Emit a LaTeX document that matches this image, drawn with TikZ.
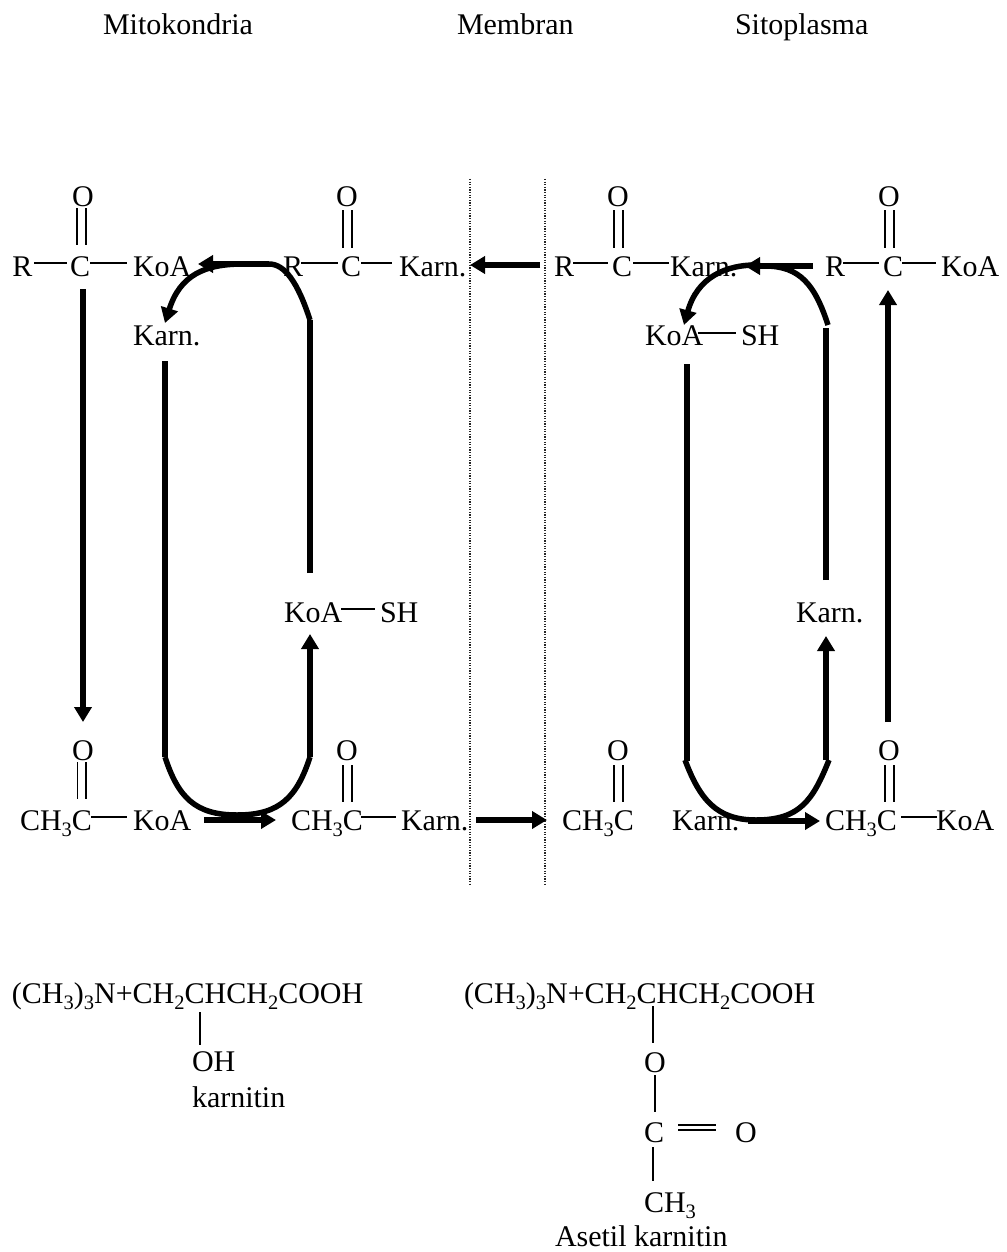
\documentclass[tikz,border=0pt]{standalone}
\usepackage{fontspec}
\setmainfont{Liberation Serif}
\usetikzlibrary{arrows.meta}
\newcommand{\subn}[1]{\raisebox{-0.2em}{\fontsize{20.5}{21}\selectfont #1}}
\newcommand{\bnd}[6]{\draw[bond] ([shift={(#2,#3)}]#1.base west) -- ([shift={(#5,#6)}]#4.base west);}
\newcommand{\thk}[6]{\draw[thick arrow] ([shift={(#2,#3)}]#1.base west) -- ([shift={(#5,#6)}]#4.base west);}
\tikzset{
  txt/.style={anchor=base west,inner sep=0pt,outer sep=0pt,font=\fontsize{30}{31}\selectfont},
  bond/.style={line width=1.3pt,black},
  heavy/.style={line width=5.5pt,black},
  thick arrow/.style={heavy,-{Triangle[length=15pt,width=17pt]}},
  membrane/.style={line width=1.1pt,dash pattern=on 1.2pt off 1.4pt,black!85}
}
\begin{document}
\begin{tikzpicture}[x=1pt,y=-1pt]
\fill[white] (0,0) rectangle (1006,1252);
\useasboundingbox (0,0) rectangle (1006,1252);
% titles
\node[txt] (t1) at (103,35) {Mitokondria};
\node[txt] (t2) at (457,35) {Membran};
\node[txt] (t3) at (735,35) {Sitoplasma};
% top row
\node[txt] (ao) at (72,207) {O};
\node[txt] (ar) at (12.5,276) {R};
\node[txt] (ac) at (70,276) {C};
\node[txt] (ak) at (133,276) {KoA};
\node[txt] (bo) at (336,207) {O};
\node[txt] (br) at (283,276) {R};
\node[txt] (bc) at (341,276) {C};
\node[txt] (bk) at (399,276) {Karn.};
\node[txt] (co) at (607,207) {O};
\node[txt] (cr) at (554,276) {R};
\node[txt] (cc) at (612,276) {C};
\node[txt] (ck) at (670,276) {Karn.};
\node[txt] (do) at (878,207) {O};
\node[txt] (dr) at (825,276) {R};
\node[txt] (dc) at (883,276) {C};
\node[txt] (dk) at (941,276) {KoA};
% second row
\node[txt] (m1) at (133,345) {Karn.};
\node[txt] (m2) at (645,345) {KoA};
\node[txt] (m3) at (741,345) {SH};
% middle row
\node[txt] (n1) at (284,622) {KoA};
\node[txt] (n2) at (380,622) {SH};
\node[txt] (n3) at (796,622) {Karn.};
% bottom row
\node[txt] (eo) at (72,760) {O};
\node[txt] (ec) at (20,830) {CH\subn{3}C};
\node[txt] (ek) at (133,830) {KoA};
\node[txt] (fo) at (336,760) {O};
\node[txt] (fc) at (291,830) {CH\subn{3}C};
\node[txt] (fk) at (401,830) {Karn.};
\node[txt] (go) at (607,760) {O};
\node[txt] (gc) at (562,830) {CH\subn{3}C};
\node[txt] (gk) at (672,830) {Karn.};
\node[txt] (ho) at (878,760) {O};
\node[txt] (hc) at (825,830) {CH\subn{3}C};
\node[txt] (hk) at (936,830) {KoA};
% structural formulas
\node[txt] (p1) at (12,1003) {(CH\subn{3})\subn{3}N+CH\subn{2}CHCH\subn{2}COOH};
\node[txt] (p2) at (192,1071) {OH};
\node[txt] (p3) at (192,1107) {karnitin};
\node[txt] (q1) at (464,1003) {(CH\subn{3})\subn{3}N+CH\subn{2}CHCH\subn{2}COOH};
\node[txt] (q2) at (644,1072) {O};
\node[txt] (q3) at (644,1142) {C};
\node[txt] (q4) at (735,1142) {O};
\node[txt] (q5) at (644,1212) {CH\subn{3}};
\node[txt] (q6) at (555,1246) {Asetil karnitin};
% membrane
\coordinate (mem1a) at (470,179); \coordinate (mem1b) at (470,886);
\coordinate (mem2a) at (545,179); \coordinate (mem2b) at (545,886);
\draw[membrane] (mem1a) -- (mem1b);
\draw[membrane] (mem2a) -- (mem2b);
% double bonds, top
\bnd{ao}{5}{1}{ac}{7}{-31} \bnd{ao}{14}{1}{ac}{16}{-31}
\bnd{bo}{7}{3}{bc}{2}{-28} \bnd{bo}{16}{3}{bc}{11}{-28}
\bnd{co}{7}{3}{cc}{2}{-28} \bnd{co}{16}{3}{cc}{11}{-28}
\bnd{do}{7}{3}{dc}{2}{-28} \bnd{do}{16}{3}{dc}{11}{-28}
% single bonds, top
\bnd{ar}{21.5}{-13}{ac}{-3}{-13} \bnd{ac}{20}{-13}{ak}{-6}{-13}
\bnd{br}{18}{-13}{bc}{-3}{-13} \bnd{bc}{20}{-13}{bk}{-7}{-13}
\bnd{cr}{19}{-13}{cc}{-4}{-13} \bnd{cc}{21}{-13}{ck}{-1}{-13}
\bnd{dr}{18}{-13}{dc}{-4}{-13} \bnd{dc}{19}{-13}{dk}{-5}{-13}
\bnd{m2}{53}{-12}{m3}{-5}{-12}
\bnd{n1}{57}{-13}{n2}{-5}{-13}
% double bonds, bottom
\bnd{eo}{5.5}{2}{ec}{57.5}{-31} \bnd{eo}{14}{2}{ec}{66}{-31}
\bnd{fo}{7}{5}{fc}{52}{-28} \bnd{fo}{16}{5}{fc}{61}{-28}
\bnd{go}{7}{5}{gc}{52}{-28} \bnd{go}{16}{5}{gc}{61}{-28}
\bnd{ho}{7}{5}{hc}{60}{-28} \bnd{ho}{16}{5}{hc}{69}{-28}
% single bonds, bottom
\bnd{ec}{71}{-13}{ek}{-6}{-13}
\bnd{fc}{70}{-13}{fk}{-5}{-13}
\bnd{hc}{76}{-13}{hk}{1}{-13}
% formula bonds
\bnd{p1}{188}{9}{p2}{8}{-26}
\bnd{q1}{189}{3}{q2}{9}{-29}
\bnd{q2}{11}{3}{q3}{11}{-30}
\bnd{q3}{34}{-17}{q4}{-19}{-17}
\bnd{q3}{34}{-12}{q4}{-19}{-12}
\bnd{q3}{9}{5}{q5}{9}{-31}
% straight heavy arrows
\thk{ac}{13}{13}{eo}{11}{-38}
\thk{fk}{75}{-10}{gc}{-15}{-10}
\thk{cr}{-14}{-11}{bk}{71}{-11}
\thk{ek}{71}{-10}{fc}{-15}{-10}
\thk{gk}{76}{-9}{hc}{-5}{-9}
\thk{ho}{10}{-38}{dc}{5}{14}
\thk{fo}{-26}{-3}{n1}{26}{12}
\thk{ho}{-52}{0}{n3}{30}{14}
% heavy strokes
\coordinate (la) at (165,361); \coordinate (lb) at (165,757);
\coordinate (lc) at (310,757); \coordinate (ld) at (310,573);
\coordinate (le) at (310,320); \coordinate (lf) at (269,264);
\coordinate (lg) at (198,264);
\coordinate (lh) at (243,264); \coordinate (li) at (165,323);
\draw[heavy] (la) -- (lb);
\draw[heavy] (ld) -- (le);
\draw[heavy] (lb) .. controls (178,797) and (195,815) .. (237,815) .. controls (280,815) and (297,797) .. (lc);
\draw[heavy] (le) .. controls (298,283) and (285,264) .. (lf) -- (225,264);
\draw[thick arrow] (lf) -- (lg);
\draw[thick arrow] (lh) .. controls (205,264) and (180,275) .. (li);
\coordinate (ra) at (687,364); \coordinate (rb) at (687,761);
\coordinate (rc) at (826,761); \coordinate (rd) at (826,580);
\coordinate (re) at (826,328); \coordinate (rf) at (828,325);
\coordinate (rg) at (813,266); \coordinate (rh) at (745,266);
\coordinate (ri) at (760,265); \coordinate (rj) at (684,325);
\draw[heavy] (ra) -- (rb);
\draw[heavy] (rd) -- (re);
\draw[heavy] (685,760) .. controls (700,800) and (717,820) .. (756,820) .. controls (800,820) and (813,800) .. (829,760);
\draw[thick arrow] (rg) -- (rh);
\draw[heavy] (rf) .. controls (815,285) and (800,266) .. (765,266);
\draw[thick arrow] (ri) .. controls (725,264) and (697,278) .. (rj);
\end{tikzpicture}
\end{document}
